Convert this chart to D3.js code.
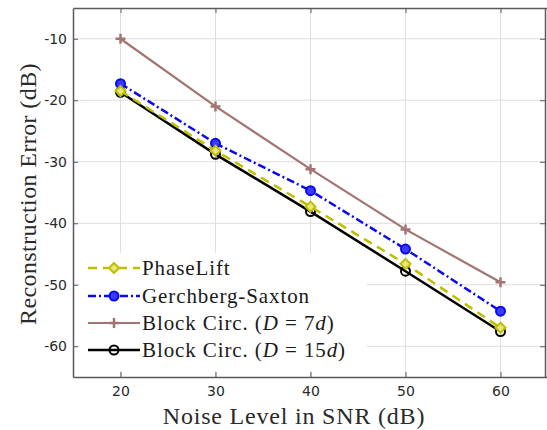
<!DOCTYPE html>
<html lang="en">
<head>
<meta charset="utf-8">
<title>Reconstruction error vs SNR</title>
<script type="text/javascript" src="https://d3js.org/d3.v7.min.js"></script>
<style type="text/css">
  body { margin: 0; background: #fff; }
  .tick text { font-family: "DejaVu Sans", sans-serif; font-size: 14px; fill: #2a2a2a; }
  .lbl { font-family: "Liberation Serif", "DejaVu Serif", serif; fill: #2a2a2a; }
</style>
</head>
<body>
<div id="chart"></div>
<script type="text/javascript">

var snr = [20, 30, 40, 50, 60];
var phaseLift = [-18.5, -28.2, -37.3, -46.6, -57.0];
var gerchberg = [-17.3, -27.0, -34.7, -44.2, -54.3];
var blockCirc7 = [-10.0, -21.0, -31.2, -41.0, -49.6];
var blockCirc15 = [-18.7, -28.8, -38.1, -47.8, -57.6];
var seriesNames = ["PhaseLift", "Gerchberg-Saxton", "Block Circ. (D = 7d)", "Block Circ. (D = 15d)"];
var xTicks = [20, 30, 40, 50, 60];
var yTicks = [-10, -20, -30, -40, -50, -60];

var w = 547, h = 430;
var padL = 73, padR = 548, padT = 8, padB = 377;

var svg = d3.select("#chart").append("svg")
    .attr("width", w).attr("height", h);

var xScale = d3.scaleLinear().domain([15, 65]).range([padL, padR]);
var yScale = d3.scaleLinear().domain([-65, -5]).range([padB, padT]);

// grid
svg.append("g").selectAll("line").data(xTicks).enter().append("line")
    .attr("x1", function(d){ return xScale(d); }).attr("x2", function(d){ return xScale(d); })
    .attr("y1", padT).attr("y2", padB)
    .attr("stroke", "#dedede").attr("stroke-width", 1);
svg.append("g").selectAll("line").data(yTicks).enter().append("line")
    .attr("y1", function(d){ return yScale(d); }).attr("y2", function(d){ return yScale(d); })
    .attr("x1", padL).attr("x2", padR)
    .attr("stroke", "#dedede").attr("stroke-width", 1);

var series = [
  { name: seriesNames[0], vals: phaseLift, color: "#bfbf00", dash: "9,6", width: 2.5, marker: "diamond" },
  { name: seriesNames[1], vals: gerchberg, color: "#0a0aee", dash: "8,3,2,3", width: 2.5, marker: "dot" },
  { name: seriesNames[2], vals: blockCirc7, color: "#a27570", dash: null, width: 2.2, marker: "plus" },
  { name: seriesNames[3], vals: blockCirc15, color: "#000000", dash: null, width: 2.5, marker: "circle" }
];

var line = d3.line()
    .x(function(d){ return xScale(d[0]); })
    .y(function(d){ return yScale(d[1]); });

function drawMarker(g, type, color, x, y) {
  if (type == "diamond") {
    g.append("path").attr("d", "M" + x + "," + (y-5) + "L" + (x+5) + "," + y + "L" + x + "," + (y+5) + "L" + (x-5) + "," + y + "Z")
      .attr("fill", "#e6e680").attr("stroke", color).attr("stroke-width", 2);
  } else if (type == "dot") {
    g.append("circle").attr("cx", x).attr("cy", y).attr("r", 4.5)
      .attr("fill", "#3a3aff").attr("stroke", color).attr("stroke-width", 2);
  } else if (type == "plus") {
    g.append("path").attr("d", "M" + (x-5) + "," + y + "H" + (x+5) + "M" + x + "," + (y-5) + "V" + (y+5))
      .attr("stroke", color).attr("stroke-width", 2.5);
  } else {
    g.append("circle").attr("cx", x).attr("cy", y).attr("r", 4.5)
      .attr("fill", "none").attr("stroke", color).attr("stroke-width", 2);
  }
}

// draw in reverse order so PhaseLift sits on top of black
series.slice().reverse().forEach(function(s){
  var pts = snr.map(function(d, i){ return [d, s.vals[i]]; });
  var g = svg.append("g");
  g.append("path").datum(pts).attr("d", line)
    .attr("fill", "none").attr("stroke", s.color).attr("stroke-width", s.width)
    .attr("stroke-dasharray", s.dash);
  pts.forEach(function(p){ drawMarker(g, s.marker, s.color, xScale(p[0]), yScale(p[1])); });
});

// axes box
var fmt = function(d){ return String(d); };   // plain hyphen minus like the original
var xAxis = d3.axisBottom(xScale).tickValues(xTicks).tickSizeInner(-5).tickSizeOuter(0).tickPadding(9).tickFormat(fmt);
var yAxis = d3.axisLeft(yScale).tickValues(yTicks).tickSizeInner(-5).tickSizeOuter(0).tickPadding(6).tickFormat(fmt);
var gx = svg.append("g").attr("transform", "translate(0," + padB + ")").call(xAxis);
var gy = svg.append("g").attr("transform", "translate(" + padL + ",0)").call(yAxis);
var gxt = svg.append("g").attr("transform", "translate(0," + padT + ")")
    .call(d3.axisTop(xScale).tickValues(xTicks).tickSizeInner(-5).tickSizeOuter(0).tickFormat(""));
var gyr = svg.append("g").attr("transform", "translate(" + (padR - 3) + ",0)")
    .call(d3.axisRight(yScale).tickValues(yTicks).tickSizeInner(-5).tickSizeOuter(0).tickFormat(""));
[gx, gy, gxt, gyr].forEach(function(g){
  g.selectAll("path.domain").attr("stroke", "#5a5a5a").attr("stroke-width", 1.5);
  g.selectAll(".tick line").attr("stroke", "#5a5a5a");
});

// legend
var lg = svg.append("g");
lg.append("rect").attr("x", 80).attr("y", 253).attr("width", 287).attr("height", 118).attr("fill", "#fff");
var legendY = [268, 296, 323, 350];
series.forEach(function(s, i){
  var y = legendY[i];
  lg.append("line").attr("x1", 88).attr("x2", 140).attr("y1", y).attr("y2", y)
    .attr("stroke", s.color).attr("stroke-width", s.width).attr("stroke-dasharray", s.dash);
  drawMarker(lg, s.marker, s.color, 114, y);
});
function legendText(y, parts) {
  var t = lg.append("text").attr("class", "lbl").attr("x", 142).attr("y", y + 7)
    .style("font-size", "21px").style("letter-spacing", "0.9px").style("fill", "#1a1a1a");
  parts.forEach(function(p){
    t.append("tspan").text(p[0]).style("font-style", p[1] ? "italic" : "normal");
  });
}
legendText(legendY[0], [["PhaseLift", false]]);
legendText(legendY[1], [["Gerchberg-Saxton", false]]);
legendText(legendY[2], [["Block Circ. (", false], ["D", true], [" = 7", false], ["d", true], [")", false]]);
legendText(legendY[3], [["Block Circ. (", false], ["D", true], [" = 15", false], ["d", true], [")", false]]);

// axis labels
svg.append("text").attr("class", "lbl").attr("x", 294).attr("y", 424)
  .attr("text-anchor", "middle").style("font-size", "24px").style("letter-spacing", "0.8px")
  .text("Noise Level in SNR (dB)");
svg.append("text").attr("class", "lbl")
  .attr("transform", "translate(36,194) rotate(-90)")
  .attr("text-anchor", "middle").style("font-size", "24px").style("letter-spacing", "0.4px")
  .text("Reconstruction Error (dB)");

</script>
</body>
</html>
